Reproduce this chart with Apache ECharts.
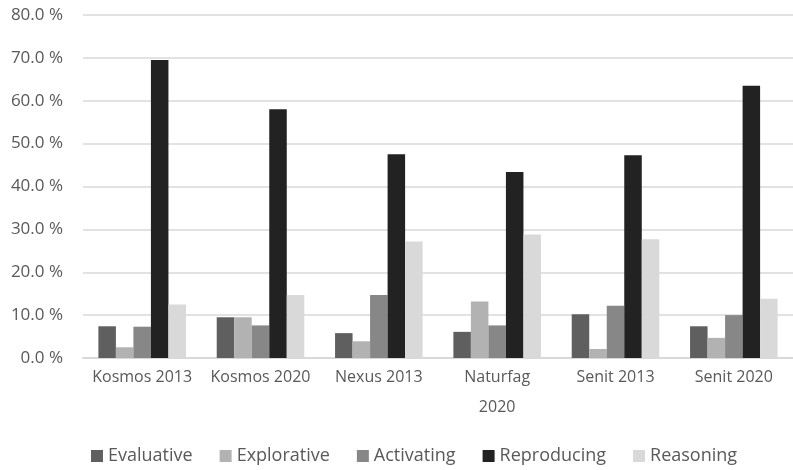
<!DOCTYPE html>
<html>
<head>
<meta charset="utf-8">
<script src="https://cdn.jsdelivr.net/npm/echarts@6/dist/echarts.min.js"></script>
<style>
  html, body { margin: 0; padding: 0; background: #fff; }
  #chart { width: 793px; height: 470px; }
</style>
</head>
<body>
<div id="chart"></div>
<script>
// Textbook groups on the category axis
const categories = ['Kosmos 2013', 'Kosmos 2020', 'Nexus 2013', 'Naturfag 2020', 'Senit 2013', 'Senit 2020'];
// Share of tasks per type (percent)
const evaluative  = [7.4, 9.5, 5.8, 6.1, 10.2, 7.4];
const explorative = [2.5, 9.5, 3.9, 13.2, 2.1, 4.7];
const activating  = [7.3, 7.6, 14.7, 7.6, 12.2, 10.0];
const reproducing = [69.5, 58.0, 47.5, 43.4, 47.3, 63.5];
const reasoning   = [12.5, 14.7, 27.2, 28.8, 27.7, 13.8];
const yTicks = [0, 10, 20, 30, 40, 50, 60, 70, 80];

const seriesDefs = [
  { name: 'Evaluative',  data: evaluative,  color: '#5f5f5f' },
  { name: 'Explorative', data: explorative, color: '#b2b2b2' },
  { name: 'Activating',  data: activating,  color: '#878787' },
  { name: 'Reproducing', data: reproducing, color: '#222222' },
  { name: 'Reasoning',   data: reasoning,   color: '#d9d9d9' }
];

const font = 'Open Sans';
const textColor = '#595959';

const chart = echarts.init(document.getElementById('chart'), null, { renderer: 'canvas' });
chart.setOption({
  animation: false,
  textStyle: { fontFamily: font },
  grid: { left: 83, right: 0, top: 15, bottom: 112, containLabel: false },
  legend: {
    top: 447,
    left: 91,
    padding: 0,
    itemWidth: 12,
    itemHeight: 12,
    itemGap: 27,
    icon: 'rect',
    textStyle: { color: textColor, fontSize: 18, fontFamily: font },
    data: seriesDefs.map(s => s.name)
  },
  xAxis: {
    type: 'category',
    data: categories,
    axisLine: { lineStyle: { color: '#d9d9d9', width: 2 } },
    axisTick: { show: false },
    axisLabel: {
      color: textColor,
      fontSize: 16,
      fontFamily: font,
      margin: 4,
      lineHeight: 30,
      interval: 0,
      formatter: v => v === 'Naturfag 2020' ? 'Naturfag\n2020' : v
    }
  },
  yAxis: {
    type: 'value',
    min: yTicks[0],
    max: yTicks[yTicks.length - 1],
    interval: 10,
    axisLine: { show: false },
    axisTick: { show: false },
    splitLine: { lineStyle: { color: '#d9d9d9', width: 1.5 } },
    axisLabel: {
      color: textColor,
      fontSize: 17,
      fontFamily: font,
      margin: 20,
      formatter: v => v.toFixed(1) + ' %'
    }
  },
  series: seriesDefs.map(s => ({
    name: s.name,
    type: 'bar',
    data: s.data,
    barGap: '0%',
    barCategoryGap: '26%',
    itemStyle: { color: s.color }
  }))
});
</script>
</body>
</html>
